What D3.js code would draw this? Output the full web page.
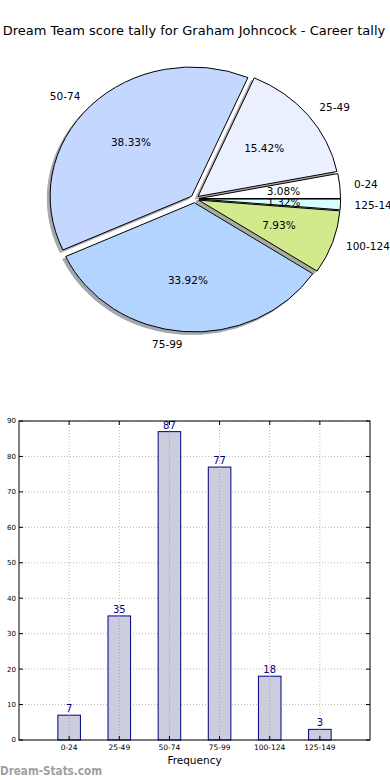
<!DOCTYPE html>
<html><head><meta charset="utf-8">
<script src="https://cdn.jsdelivr.net/npm/d3@7"></script>
<style>body{margin:0;background:#fff}svg{display:block}text{font-family:"DejaVu Sans",sans-serif}</style>
</head><body><svg id="c" width="390" height="780"></svg>
<script>
const categories = ["0-24","25-49","50-74","75-99","100-124","125-149"];
const counts = [7,35,87,77,18,3];
const sliceColors = ["#ffffff","#eaf0ff","#c4d8ff","#b3d4ff","#d0ea8c","#d8ffff"];
const yTicks = [0,10,20,30,40,50,60,70,80,90];
const title = "Dream Team score tally for Graham Johncock - Career tally";

const svg = d3.select("#c");
svg.append("text").attr("x",194).attr("y",35).attr("text-anchor","middle")
  .attr("font-size",13).attr("fill","#000").text(title);

// ---- Pie ----
const cx = 194.7, cy = 198.9, Rx = 141.6, Ry = 129.2, expl = 0.03;
const total = d3.sum(counts);
const pie = d3.pie().sort(null).startAngle(Math.PI/2).endAngle(Math.PI/2 - 2*Math.PI);
const arcs = pie(counts);
const arc = d3.arc().innerRadius(0).outerRadius(1);
const off = a => { const m=(a.startAngle+a.endAngle)/2; return [Math.sin(m), -Math.cos(m)]; };
const pg = svg.append("g");
arcs.forEach((a,i)=>{
  const [ux,uy]=off(a);
  const c = d3.rgb(sliceColors[i]);
  const sc = d3.rgb(c.r*0.3,c.g*0.3,c.b*0.3);
  pg.append("g").attr("transform",`translate(${cx+ux*expl*Rx-0.02*Rx},${cy+uy*expl*Ry+0.02*Ry}) scale(${Rx},${Ry})`)
    .append("path").attr("d",arc(a)).attr("fill",sc).attr("stroke",sc).attr("opacity",0.45)
    .attr("stroke-width",1).attr("vector-effect","non-scaling-stroke");
});
arcs.forEach((a,i)=>{
  const [ux,uy]=off(a);
  pg.append("g").attr("transform",`translate(${cx+ux*expl*Rx},${cy+uy*expl*Ry}) scale(${Rx},${Ry})`)
    .append("path").attr("d",arc(a)).attr("fill",sliceColors[i]).attr("stroke","#000")
    .attr("stroke-width",1).attr("vector-effect","non-scaling-stroke");
});
arcs.forEach((a,i)=>{
  const [ux,uy]=off(a);
  const lx = cx + ux*(expl+1.1)*Rx, ly = cy + uy*(expl+1.1)*Ry;
  svg.append("text").attr("x",lx).attr("y",ly).attr("dy","0.35em")
    .attr("text-anchor", ux>=0 ? "start":"end").attr("font-size",10.5).text(categories[i]);
  const px = cx + ux*(expl+0.6)*Rx, py = cy + uy*(expl+0.6)*Ry;
  svg.append("text").attr("x",px).attr("y",py).attr("dy","0.35em")
    .attr("text-anchor","middle").attr("font-size",10.5)
    .text((counts[i]/total*100).toFixed(2)+"%");
});

// ---- Bar chart ----
const L=19, R=370, T=421, B=740;
const x = d3.scaleLinear().domain([-1,6]).range([L,R]);
const y = d3.scaleLinear().domain([0,90]).range([B,T]);
const bg = svg.append("g");
yTicks.forEach(t=>{
  bg.append("line").attr("x1",L).attr("x2",R).attr("y1",y(t)).attr("y2",y(t))
    .attr("stroke","#b8b8b8").attr("stroke-dasharray","1,2");
});
categories.forEach((c,i)=>{
  bg.append("line").attr("x1",x(i)).attr("x2",x(i)).attr("y1",T).attr("y2",B)
    .attr("stroke","#b8b8b8").attr("stroke-dasharray","1,2");
});
const bw = x(0.45)-x(0);
categories.forEach((c,i)=>{
  bg.append("rect").attr("x",x(i)-bw/2).attr("y",y(counts[i])).attr("width",bw)
    .attr("height",y(0)-y(counts[i])).attr("fill","#ccccdf").attr("stroke","#000080").attr("stroke-width",1);
  bg.append("text").attr("x",x(i)).attr("y",y(counts[i])-3).attr("text-anchor","middle")
    .attr("font-size",10).attr("fill","#000080").text(counts[i]);
});
categories.forEach((c,i)=>{
  bg.append("line").attr("x1",x(i)).attr("x2",x(i)).attr("y1",y(counts[i])).attr("y2",B)
    .attr("stroke","#a0a0b0").attr("stroke-dasharray","1,2");
});
yTicks.forEach(t=>{
  bg.append("line").attr("x1",L).attr("x2",L+4).attr("y1",y(t)).attr("y2",y(t)).attr("stroke","#000");
  bg.append("line").attr("x1",R-4).attr("x2",R).attr("y1",y(t)).attr("y2",y(t)).attr("stroke","#000");
  bg.append("text").attr("x",L-3).attr("y",y(t)).attr("dy","0.35em").attr("text-anchor","end")
    .attr("font-size",7).text(t);
});
categories.forEach((c,i)=>{
  bg.append("line").attr("x1",x(i)).attr("x2",x(i)).attr("y1",B).attr("y2",B-4).attr("stroke","#000");
  bg.append("line").attr("x1",x(i)).attr("x2",x(i)).attr("y1",T).attr("y2",T+4).attr("stroke","#000");
  bg.append("text").attr("x",x(i)).attr("y",B+10).attr("text-anchor","middle").attr("font-size",7.5).text(c);
});
bg.append("rect").attr("x",L).attr("y",T).attr("width",R-L).attr("height",B-T)
  .attr("fill","none").attr("stroke","#000").attr("stroke-width",1);
svg.append("text").attr("x",194.5).attr("y",764).attr("text-anchor","middle").attr("font-size",10.5).text("Frequency");
svg.append("text").attr("x",0).attr("y",775).attr("font-size",12).attr("font-weight",600)
  .attr("fill","#a0a0a0").attr("textLength",102).attr("lengthAdjust","spacingAndGlyphs").text("Dream-Stats.com");
</script></body></html>
